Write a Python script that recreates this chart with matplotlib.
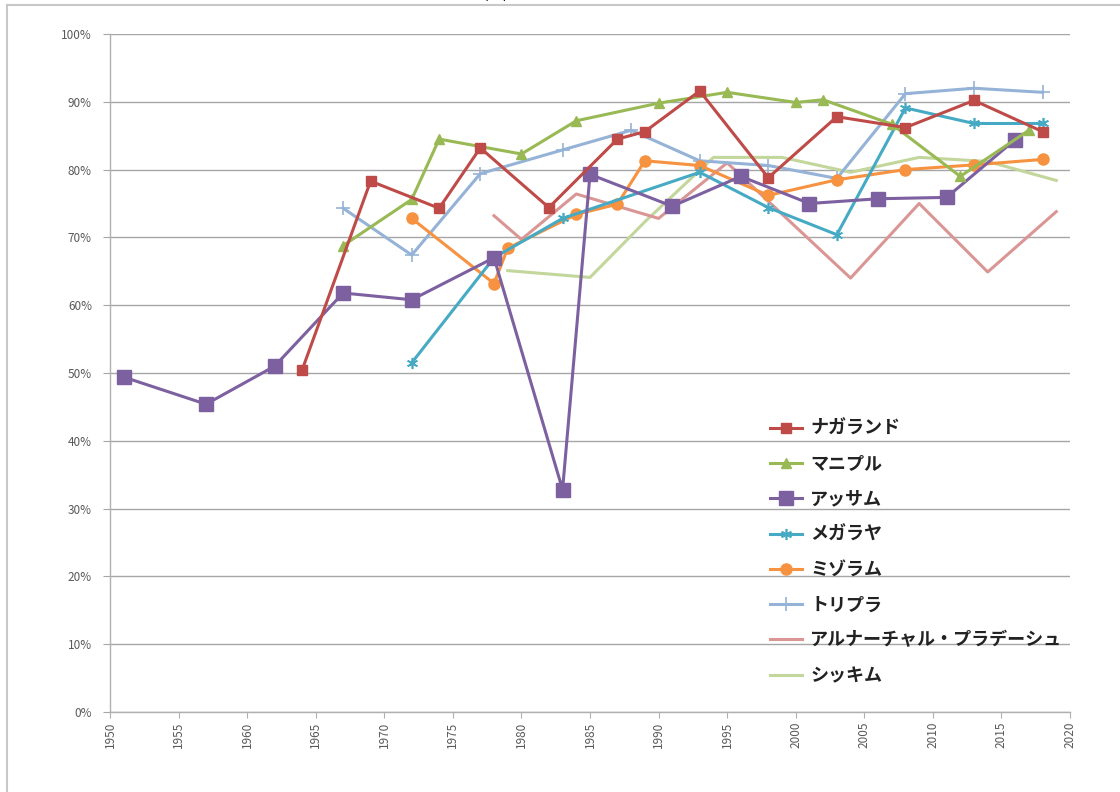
import matplotlib
matplotlib.use("Agg")
import matplotlib.pyplot as plt
from matplotlib.lines import Line2D
from matplotlib.ticker import MultipleLocator, FuncFormatter

plt.rcParams['font.family'] = ['Noto Sans CJK JP', 'DejaVu Sans']

# ---- data ----
nagaland_years = [1964, 1969, 1974, 1977, 1982, 1987, 1989, 1993, 1998, 2003, 2008, 2013, 2018]
nagaland_vals = [50.4, 78.3, 74.3, 83.2, 74.4, 84.5, 85.6, 91.6, 78.8, 87.8, 86.2, 90.2, 85.6]

manipur_years = [1967, 1972, 1974, 1980, 1984, 1990, 1995, 2000, 2002, 2007, 2012, 2017]
manipur_vals = [68.8, 75.6, 84.5, 82.3, 87.2, 89.8, 91.4, 89.9, 90.3, 86.7, 79.0, 85.8]

assam_years = [1951, 1957, 1962, 1967, 1972, 1978, 1983, 1985, 1991, 1996, 2001, 2006, 2011, 2016]
assam_vals = [49.4, 45.4, 51.0, 61.8, 60.8, 67.0, 32.8, 79.3, 74.6, 79.0, 75.0, 75.7, 75.9, 84.4]

meghalaya_years = [1972, 1978, 1983, 1993, 1998, 2003, 2008, 2013, 2018]
meghalaya_vals = [51.5, 67.0, 72.8, 79.6, 74.4, 70.4, 89.1, 86.8, 86.8]

mizoram_years = [1972, 1978, 1979, 1984, 1987, 1989, 1993, 1998, 2003, 2008, 2013, 2018]
mizoram_vals = [72.8, 63.2, 68.4, 73.4, 74.9, 81.3, 80.6, 76.2, 78.5, 80.0, 80.7, 81.5]

tripura_years = [1967, 1972, 1977, 1983, 1988, 1993, 1998, 2003, 2008, 2013, 2018]
tripura_vals = [74.3, 67.4, 79.4, 82.9, 85.8, 81.3, 80.6, 78.7, 91.2, 92.0, 91.4]

arunachal_years = [1978, 1980, 1984, 1990, 1995, 2004, 2009, 2014, 2019]
arunachal_vals = [73.2, 69.7, 76.4, 72.8, 81.0, 64.0, 75.0, 64.9, 73.8]

sikkim_years = [1979, 1985, 1989, 1994, 1999, 2004, 2009, 2014, 2019]
sikkim_vals = [65.1, 64.1, 72.3, 81.8, 81.8, 79.6, 81.8, 81.2, 78.4]

series_names = ['ナガランド', 'マニプル', 'アッサム', 'メガラヤ', 'ミゾラム', 'トリプラ',
                'アルナーチャル・プラデーシュ', 'シッキム']

# ---- figure ----
fig = plt.figure(figsize=(11.2, 7.92), dpi=100)
ax = fig.add_axes([110/1120, 80/792, 960/1120, 678/792])

# page frame lines
fig.add_artist(Line2D([7/1120, 7/1120], [0, 1 - 5/792], transform=fig.transFigure,
                      color='#c8c8c8', lw=1.5))
fig.add_artist(Line2D([7/1120, 1], [1 - 5/792, 1 - 5/792], transform=fig.transFigure,
                      color='#c8c8c8', lw=1.5))
fig.text(0.443, 1.009, '(%)', ha='center', va='center', fontsize=12, color='black')

styles = [
    dict(color='#BE4B48', marker='s', ms=7),
    dict(color='#98B954', marker='^', ms=7.5),
    dict(color='#7D60A0', marker='s', ms=10),
    dict(color='#46AAC5', marker=(6, 2, 0), ms=8, mew=1.2),
    dict(color='#F69240', marker='o', ms=8),
    dict(color='#95B3D7', marker='+', ms=10, mew=1.2),
    dict(color='#D99694', marker=None),
    dict(color='#C3D69B', marker=None),
]
data = [(nagaland_years, nagaland_vals), (manipur_years, manipur_vals),
        (assam_years, assam_vals), (meghalaya_years, meghalaya_vals),
        (mizoram_years, mizoram_vals), (tripura_years, tripura_vals),
        (arunachal_years, arunachal_vals), (sikkim_years, sikkim_vals)]

order = [7, 6, 5, 4, 3, 2, 1, 0]
handles = {}
for i in order:
    xs, ys = data[i]
    st = dict(styles[i])
    ln, = ax.plot(xs, [v / 100 for v in ys], lw=2.2, label=series_names[i],
                  solid_joinstyle='round', zorder=3 + (8 - i) * 0.1, **st)
    handles[i] = ln

ax.set_xlim(1950, 2020)
ax.set_ylim(0, 1.0)
ax.xaxis.set_major_locator(MultipleLocator(5))
ax.yaxis.set_major_locator(MultipleLocator(0.1))
ax.yaxis.set_major_formatter(FuncFormatter(lambda v, p: f'{round(v*100)}%'))
ax.grid(axis='y', color='#a6a6a6', lw=1.0)
ax.set_axisbelow(True)
for s in ['top', 'right']:
    ax.spines[s].set_visible(False)
for s in ['left', 'bottom']:
    ax.spines[s].set_color('#b0b0b0')
    ax.spines[s].set_linewidth(1.0)
ax.tick_params(axis='x', direction='out', length=4, color='#b0b0b0', labelsize=8.5,
               labelcolor='#595959', rotation=90, pad=3)
ax.tick_params(axis='y', direction='out', length=5, color='#a6a6a6', labelsize=8.5,
               labelcolor='#595959', pad=8)

leg = ax.legend([handles[i] for i in range(8)], series_names, loc='upper left',
                bbox_to_anchor=(0.687, 0.432), frameon=False, handlelength=1.8,
                handletextpad=0.45, labelspacing=0.9, prop=dict(size=13, weight='bold'),
                borderaxespad=0, borderpad=0)
for t in leg.get_texts():
    t.set_color('#222222')

fig.savefig('out.png', dpi=100)
